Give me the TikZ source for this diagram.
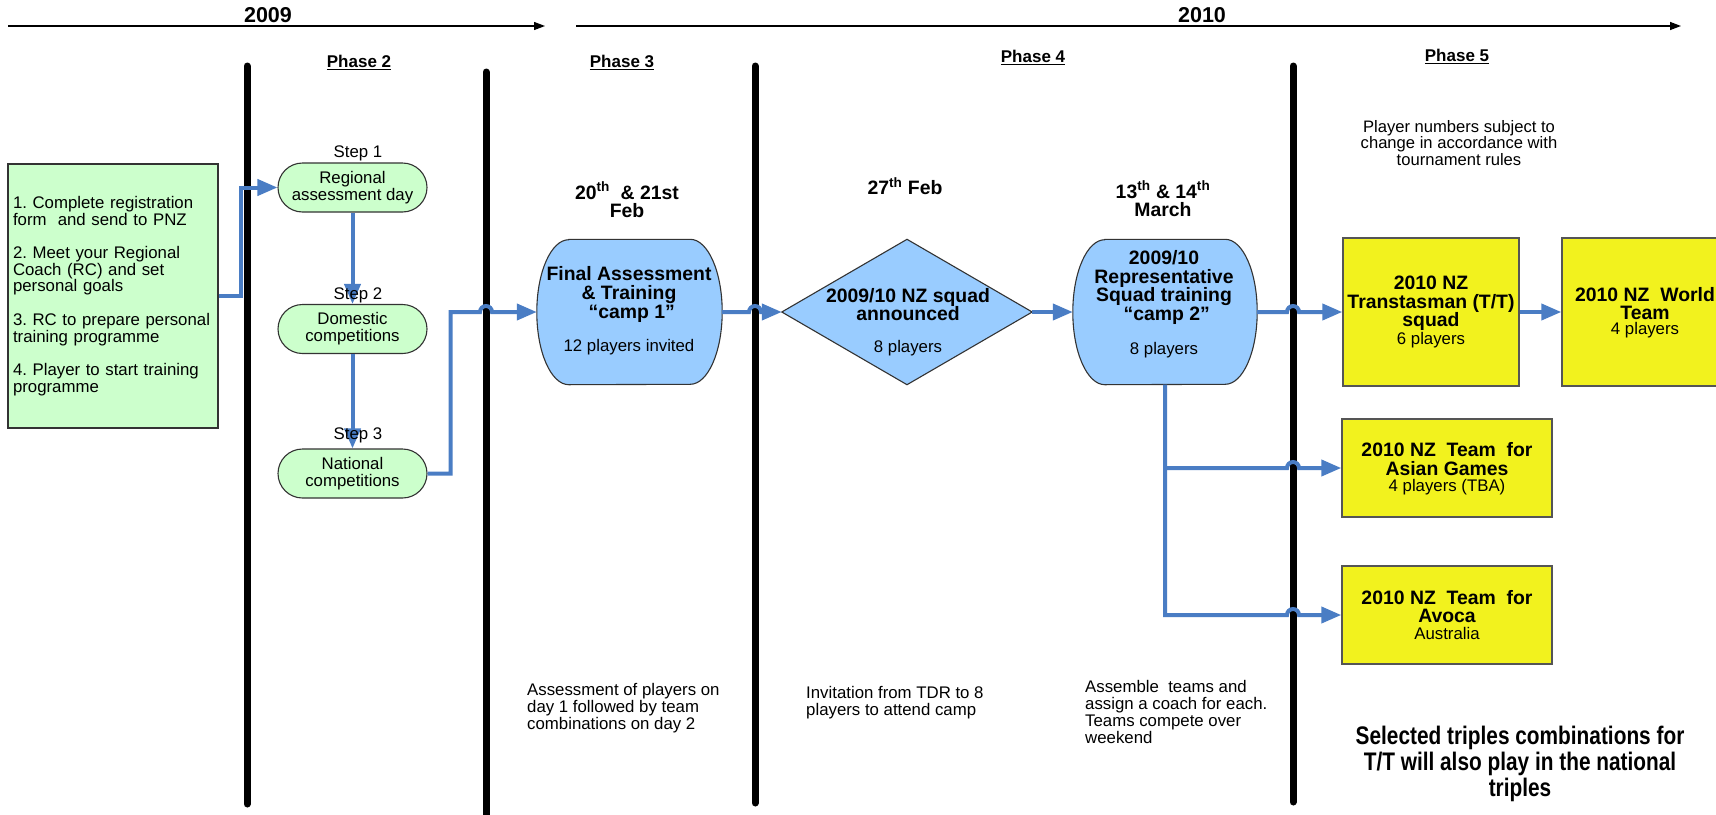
\documentclass[tikz,border=0pt]{standalone}
\usepackage{fontspec}
\setmainfont{Liberation Sans}
\newfontfamily\narrowfont{Liberation Sans}[FakeStretch=0.82]
\usetikzlibrary{arrows.meta,calc}
\frenchspacing
\definecolor{connblue}{HTML}{4A7DC4}
\definecolor{gfill}{HTML}{CCFFCC}
\definecolor{bfill}{HTML}{99CCFF}
\definecolor{yfill}{HTML}{F2F21E}
\definecolor{edge}{HTML}{333333}
\definecolor{ybord}{HTML}{555555}
\newcommand\phul[1]{\setbox0\hbox{#1}\leavevmode\rlap{\rule[-2.6pt]{\wd0}{1.3pt}}\box0}
\newcommand\barrelpath[1]{%
  \draw[edgeline,fill=bfill] ($(#1.north west)+(32,0)$) -- ($(#1.north east)+(-32,0)$)
    arc[start angle=-90,end angle=90,x radius=32,y radius=72.5]
    -- ($(#1.south west)+(32,0)$)
    arc[start angle=90,end angle=270,x radius=32,y radius=72.5] -- cycle;}
\begin{document}
\begin{tikzpicture}[x=1pt,y=-1pt,
  nt/.style={font=\fontsize{16.8}{16.8}\selectfont,inner sep=0pt,align=center},
  ntl/.style={font=\fontsize{16.8}{16.8}\selectfont,inner sep=0pt,align=left,anchor=west},
  bt/.style={font=\bfseries\fontsize{19.4}{18.8}\selectfont,inner sep=0pt,align=center},
  yt/.style={font=\bfseries\fontsize{21.5}{21.5}\selectfont,inner sep=0pt},
  pht/.style={font=\bfseries\fontsize{17}{17}\selectfont,inner sep=0pt},
  edgeline/.style={draw=edge,line width=1.1pt},
  stadium/.style={edgeline,fill=gfill,rectangle,rounded corners=24.5pt,minimum width=149pt,minimum height=49pt,inner sep=0pt,align=center,font=\fontsize{16.8}{17}\selectfont},
  holder/.style={rectangle,inner sep=0pt,minimum width=#1,minimum height=145pt},
  ybox/.style={draw=ybord,line width=1.4pt,fill=yfill,rectangle,inner sep=0pt},
  arrowconn/.style={draw=connblue,line width=4pt,-{Triangle[length=20pt,width=16pt]}},
  phasebar/.style={line width=7pt,line cap=round},
  tlarrow/.style={line width=1.3pt,-{Triangle[length=11pt,width=8pt]}},
]
\useasboundingbox (0,0) rectangle (1716,814);
\fill[white] (0,0) rectangle (1716,814);
\clip (0,0) rectangle (1716,814);

% timeline
\coordinate (t1s) at (8,26); \coordinate (t1e) at (545,26);
\coordinate (t2s) at (576,26); \coordinate (t2e) at (1681,26);
\draw[tlarrow] (t1s) -- (t1e);
\draw[tlarrow] (t2s) -- (t2e);
\node[yt] (y2009) at (268,15) {2009};
\node[yt] (y2010) at (1202,15) {2010};
\node[pht] (ph2) at (359,63) {\phul{Phase 2}};
\node[pht] (ph3) at (622,63) {\phul{Phase 3}};
\node[pht] (ph4) at (1033,58) {\phul{Phase 4}};
\node[pht] (ph5) at (1457,57) {\phul{Phase 5}};

% phase bars
\coordinate (b1) at (247,66);  \coordinate (b1e) at (247,804);
\coordinate (b2) at (486,72);  \coordinate (b2e) at (486,830);
\coordinate (b3) at (755,66);  \coordinate (b3e) at (755,803);
\coordinate (b4) at (1293,66); \coordinate (b4e) at (1293,802);
\draw[phasebar] (b1) -- (b1e);
\draw[phasebar] (b2) -- (b2e);
\draw[phasebar] (b3) -- (b3e);
\draw[phasebar] (b4) -- (b4e);

% registration box
\node[edgeline,fill=gfill,rectangle,minimum width=210pt,minimum height=264pt,text width=200pt,inner xsep=5pt,inner ysep=0pt,align=left,font=\fontsize{16.8}{16.7}\selectfont] (reg) at (113,296)
 {1. Complete registration\\form~ and send to PNZ\\[16.7pt]2. Meet your Regional\\Coach (RC) and set\\personal goals\\[16.7pt]3. RC to prepare personal\\training programme\\[16.7pt]4. Player to start training\\programme};

% phase 2 steps
\node[stadium] (st1) at (352.5,187.5) {Regional\\assessment day};
\node[stadium] (st2) at (352.5,329) {Domestic\\competitions};
\node[stadium] (st3) at (352.5,473.5) {National\\competitions};
\node[nt] (s1l) at (358,153) {Step 1};

% phase 3
\node[holder=185pt] (fa) at (629.5,312) {};
\barrelpath{fa}
\node[bt] (fab) at (629,294.5) {Final Assessment\\\& Training\\~“camp 1”};
\node[nt] (fan) at (629,347) {12 players invited};
\node[bt] (d1) at (627,200) {20\textsuperscript{th}~ \& 21st\\Feb};
\node[ntl] (n1) at (527,708) {Assessment of players on\\day 1 followed by team\\combinations on day 2};

% phase 4
\node[holder=250pt] (dia) at (907,312) {};
\draw[edgeline,fill=bfill] (dia.west) -- (dia.north) -- (dia.east) -- (dia.south) -- cycle;
\node[bt] (diab) at (908,304.5) {2009/10 NZ squad\\announced};
\node[nt] (dian) at (908,348) {8 players};
\node[bt] (d2) at (905,186) {27\textsuperscript{th} Feb};
\node[ntl] (n2) at (806,703) {Invitation from TDR to 8\\players to attend camp};

\node[holder=184pt] (c2) at (1165,312) {};
\barrelpath{c2}
\node[bt] (c2b) at (1164,287.5) {2009/10\\Representative\\Squad training\\~“camp 2”};
\node[nt] (c2n) at (1164,350) {8 players};
\node[bt] (d3) at (1163,199) {13\textsuperscript{th} \& 14\textsuperscript{th}\\March};
\node[ntl] (n3) at (1085,712) {Assemble~ teams and\\assign a coach for each.\\Teams compete over\\weekend};

% phase 5
\node[nt,font=\fontsize{16.6}{16.2}\selectfont] (pn) at (1459,143) {Player numbers subject to\\change in accordance with\\tournament rules};
\node[ybox,minimum width=176pt,minimum height=148pt] (tt) at (1431,312) {};
\node[bt,font=\bfseries\fontsize{19.4}{18.5}\selectfont] (ttb) at (1431,303.5) {2010 NZ\\Transtasman (T/T)\\squad};
\node[nt] (ttn) at (1431,340) {6 players};
\node[ybox,minimum width=166pt,minimum height=148pt] (wt) at (1645,312) {};
\node[bt] (wtb) at (1645,303.5) {2010 NZ~ World\\Team};
\node[nt] (wtn) at (1645,330) {4 players};
\node[ybox,minimum width=210pt,minimum height=98pt] (ag) at (1447,468) {};
\node[bt] (agb) at (1447,459) {2010 NZ~ Team~ for\\Asian Games};
\node[nt] (agn) at (1447,487) {4 players (TBA)};
\node[ybox,minimum width=210pt,minimum height=98pt] (av) at (1447,615) {};
\node[bt] (avb) at (1447,606.5) {2010 NZ~ Team~ for\\Avoca};
\node[nt] (avn) at (1447,633) {Australia};
\node[inner sep=0pt,align=center,font=\narrowfont\bfseries\fontsize{25.4}{26}\selectfont] (sel) at (1520,764)
 {Selected triples combinations for\\T/T will also play in the national\\triples};

% connectors
\draw[arrowconn] (reg.east) -- ++(22,0) |- (st1.west);
\draw[arrowconn] (st1.south) -- (st2.north);
\draw[arrowconn] (st2.south) -- (st3.north);
\node[nt] (s2l) at (358,295) {Step 2};
\node[nt] (s3l) at (358,435) {Step 3};
\draw[arrowconn] (st3.east) -- ++(23,0) |- ($(b2 |- fa.west)+(-6,0)$) arc[start angle=180,end angle=360,radius=6] -- (fa.west);
\draw[arrowconn] (fa.east) -- ($(b3 |- fa.east)+(-6,0)$) arc[start angle=180,end angle=360,radius=6] -- (dia.west);
\draw[arrowconn] (dia.east) -- (c2.west);
\draw[arrowconn] (c2.east) -- ($(b4 |- c2.east)+(-6,0)$) arc[start angle=180,end angle=360,radius=6] -- (tt.west);
\draw[arrowconn] (tt.east) -- (wt.west);
\draw[arrowconn] (c2.south) |- ($(b4 |- av.west)+(-6,0)$) arc[start angle=180,end angle=360,radius=6] -- (av.west);
\draw[arrowconn] (c2.south |- ag.west) -- ($(b4 |- ag.west)+(-6,0)$) arc[start angle=180,end angle=360,radius=6] -- (ag.west);
\end{tikzpicture}
\end{document}
